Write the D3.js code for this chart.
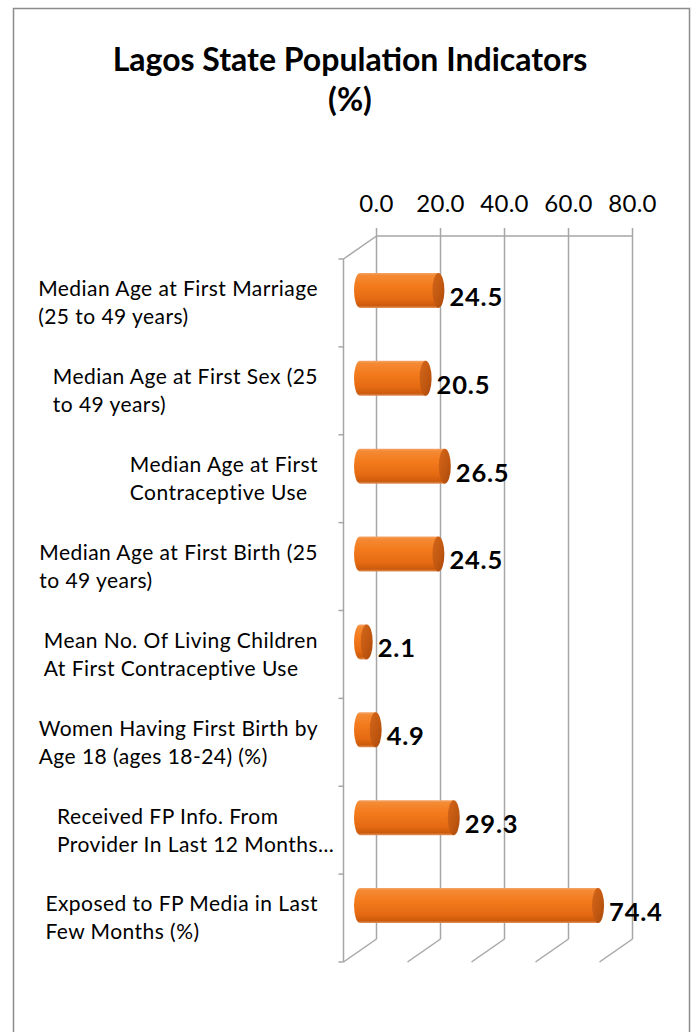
<!DOCTYPE html>
<html>
<head>
<meta charset="utf-8">
<script src="https://cdn.jsdelivr.net/npm/d3@7/dist/d3.min.js"></script>
<style>
  html, body { margin: 0; padding: 0; background: #fff; }
  svg { display: block; }
  text { font-family: Lato, "Open Sans", sans-serif; fill: #000; }
</style>
</head>
<body>
<script>
// Indicator names (already wrapped into lines) and their values
const categories = [
  ["Median Age at First Marriage", "(25 to 49 years)"],
  ["Median Age at First Sex (25", "to 49 years)"],
  ["Median Age at First", "Contraceptive Use"],
  ["Median Age at First Birth (25", "to 49 years)"],
  ["Mean No. Of Living Children", "At First Contraceptive Use"],
  ["Women Having First Birth by", "Age 18 (ages 18-24) (%)"],
  ["Received FP Info. From", "Provider In Last 12 Months\u2026"],
  ["Exposed to FP Media in Last", "Few Months (%)"]
];
const values = [24.5, 20.5, 26.5, 24.5, 2.1, 4.9, 29.3, 74.4];
const tickValues = [0, 20, 40, 60, 80];
const titleLines = ["Lagos State Population Indicators", "(%)"];

const W = 700, H = 1032;
const svg = d3.select("body").append("svg").attr("width", W).attr("height", H);

// Gradients for the cylinder bodies and end caps
const defs = svg.append("defs");
const body = defs.append("linearGradient").attr("id", "cylBody")
  .attr("x1", 0).attr("y1", 0).attr("x2", 0).attr("y2", 1);
[["0%", "#f4a468"], ["7%", "#f48a35"], ["35%", "#f47b1d"], ["75%", "#e56a12"], ["93%", "#cc5a0c"], ["100%", "#e0935a"]]
  .forEach(([o, c]) => body.append("stop").attr("offset", o).attr("stop-color", c));
const cap = defs.append("linearGradient").attr("id", "cylCap")
  .attr("x1", 0).attr("y1", 0).attr("x2", 1).attr("y2", 1);
[["0%", "#d4661a"], ["60%", "#c05710"], ["100%", "#a8480b"]]
  .forEach(([o, c]) => cap.append("stop").attr("offset", o).attr("stop-color", c));

// Outer frame
svg.append("rect").attr("x", 13.5).attr("y", 8.5).attr("width", 676).attr("height", 1040)
  .attr("fill", "none").attr("stroke", "#8c8c8c").attr("stroke-width", 1.5);

// Title
svg.append("g").selectAll("text").data(titleLines).join("text")
  .attr("x", 350).attr("y", (d, i) => 60 + i * 40)
  .attr("dy", "0.35em")
  .attr("text-anchor", "middle")
  .style("font-weight", "bold").style("font-size", "32px")
  .text(d => d);

// 3D geometry: back wall, and depth offset toward the front
const backTop = 236, backBottom = 939;
const depthX = -33, depthY = 23;
const x = d3.scaleLinear().domain([0, 80]).range([376.5, 632.5]);
const y = d3.scaleBand().domain(d3.range(categories.length)).range([backTop + depthY, backBottom + depthY]);

const grid = svg.append("g").attr("stroke", "#a6a6a6").attr("stroke-width", 1.5).attr("fill", "none");
// back wall gridlines with ticks above the wall
grid.selectAll("line.v").data(tickValues).join("line").attr("class", "v")
  .attr("x1", d => x(d)).attr("x2", d => x(d))
  .attr("y1", backTop - 8).attr("y2", backBottom);
// back wall top edge
grid.append("line").attr("x1", x(0)).attr("x2", x(80)).attr("y1", backTop).attr("y2", backTop);
// floor diagonals
grid.selectAll("line.f").data(tickValues).join("line").attr("class", "f")
  .attr("x1", d => x(d)).attr("y1", backBottom)
  .attr("x2", d => x(d) + depthX).attr("y2", backBottom + depthY);
// side wall top edge
grid.append("line").attr("x1", x(0)).attr("y1", backTop)
  .attr("x2", x(0) + depthX).attr("y2", backTop + depthY);
// front category axis
const axisX = x(0) + depthX;
grid.append("line").attr("x1", axisX).attr("x2", axisX)
  .attr("y1", backTop + depthY).attr("y2", backBottom + depthY);
grid.selectAll("line.t").data(d3.range(categories.length + 1)).join("line").attr("class", "t")
  .attr("x1", axisX - 5).attr("x2", axisX)
  .attr("y1", i => y.range()[0] + i * y.step()).attr("y2", i => y.range()[0] + i * y.step());

// value axis labels on top
svg.append("g").selectAll("text").data(tickValues).join("text")
  .attr("x", d => x(d)).attr("y", 203.5).attr("dy", "0.35em")
  .attr("text-anchor", "middle").style("font-size", "24px").style("letter-spacing", "0.3px")
  .text(d => d3.format(".1f")(d));

// Cylinders sit halfway into the depth
const midX = depthX / 2, midY = depthY / 2;
const rx = 6, ry = 17.5;
const bars = svg.append("g").selectAll("g").data(values).join("g");
bars.each(function (v, i) {
  const g = d3.select(this);
  const cy = y(i) + y.bandwidth() / 2 - midY - 1;
  const x0 = x(0) + midX, x1 = x(v) + midX;
  g.append("path")
    .attr("d", `M${x1},${cy - ry} L${x0},${cy - ry} A${rx},${ry} 0 0 0 ${x0},${cy + ry} L${x1},${cy + ry} Z`)
    .attr("fill", "url(#cylBody)");
  g.append("ellipse").attr("cx", x1).attr("cy", cy).attr("rx", rx).attr("ry", ry)
    .attr("fill", "url(#cylCap)");
  g.append("text")
    .attr("x", x1 + rx + 5).attr("y", cy + 6.5).attr("dy", "0.35em")
    .style("font-weight", "bold").style("font-size", "25.5px").style("letter-spacing", "0.8px")
    .text(d3.format(".1f")(v));
});

// Category labels: left-aligned lines, block right edge near the axis
const labelRight = 318, lineGap = 28;
const labels = svg.append("g").style("font-size", "21px").style("letter-spacing", "0.45px");
categories.forEach((lines, i) => {
  const cy = y(i) + y.bandwidth() / 2;
  const g = labels.append("g");
  const ts = g.selectAll("text").data(lines).join("text")
    .attr("y", (d, k) => cy + (k - (lines.length - 1) / 2) * lineGap)
    .attr("dy", "0.35em")
    .text(d => d);
  // width of the block, ignoring a trailing ellipsis
  let maxW = 0;
  ts.each(function (d) {
    let w = this.getComputedTextLength();
    if (d.endsWith("\u2026")) {
      const n = this.getNumberOfChars();
      w = this.getSubStringLength(0, n - 1);
    }
    maxW = Math.max(maxW, w);
  });
  ts.attr("x", labelRight - maxW);
});
</script>
</body>
</html>
